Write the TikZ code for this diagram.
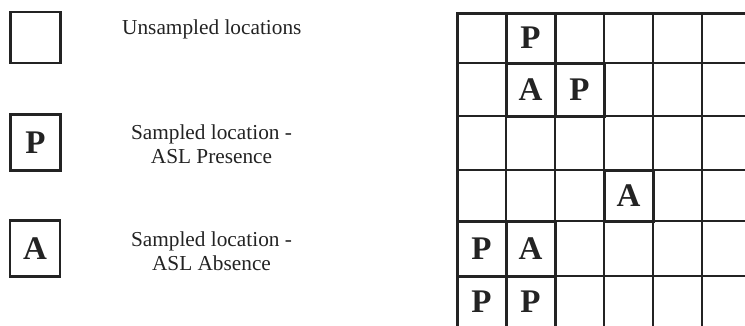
\documentclass[tikz,border=0pt]{standalone}
\usepackage{fontspec}
\setmainfont{Liberation Serif}
\usepackage{tikz}
\usetikzlibrary{positioning}
\definecolor{inkgray}{RGB}{35,35,35}
\tikzset{
  gridline/.style={draw=inkgray, line width=1.2pt},
  gridedge/.style={draw=inkgray, line width=3pt},
  sampled/.style={draw=inkgray, line width=3pt, rectangle, inner sep=0pt,
                  minimum width=49pt, text=inkgray,
                  font=\fontsize{33}{33}\selectfont\bfseries},
  keybox/.style={draw=inkgray, line width=2.4pt, rectangle, inner sep=0pt,
                 minimum width=50pt, text=inkgray,
                 font=\fontsize{33}{33}\selectfont\bfseries},
  keytext/.style={inner sep=0pt, align=center, text=inkgray,
                  font=\fontsize{21.3}{24}\selectfont},
}

\begin{document}
\begin{tikzpicture}[x=1pt, y=-1pt]
  \clip (0,0) rectangle (745,325);

  % legend
  \node[keybox, minimum height=51pt] (kU) at (35.5,37.5) {};
  \node[keybox, minimum height=56pt] (kP) at (35.5,142.5) {P};
  \node[keybox, minimum height=56pt] (kA) at (35,248.5) {A};
  \node[keytext, anchor=base west] (tU) at (122,34) {Unsampled locations};
  \node[keytext, anchor=north] (tP) at (211.5,125) {Sampled location -\\ASL Presence};
  \node[keytext, anchor=north] (tA) at (211.5,232) {Sampled location -\\ASL Absence};

  % grid
  \foreach \x in {506,555,604,653,702,751}
    \draw[gridline] (\x,13) -- (\x,340);
  \foreach \y in {63,116,170,221,276,328}
    \draw[gridline] (457,\y) -- (760,\y);
  \draw[gridedge] (457,340) -- (457,13) -- (760,13);

  % sampled cells
  \node[sampled, minimum height=50pt] (c12) at (530.5,38) {P};
  \node[sampled, minimum height=53pt] (c22) at (530.5,89.5) {A};
  \node[sampled, minimum height=53pt] (c23) at (579.5,89.5) {P};
  \node[sampled, minimum height=51pt] (c44) at (628.5,195.5) {A};
  \node[sampled, minimum height=55pt] (c51) at (481.5,248.5) {P};
  \node[sampled, minimum height=55pt] (c52) at (530.5,248.5) {A};
  \node[sampled, minimum height=52pt] (c61) at (481.5,302) {P};
  \node[sampled, minimum height=52pt] (c62) at (530.5,302) {P};
\end{tikzpicture}
\end{document}
